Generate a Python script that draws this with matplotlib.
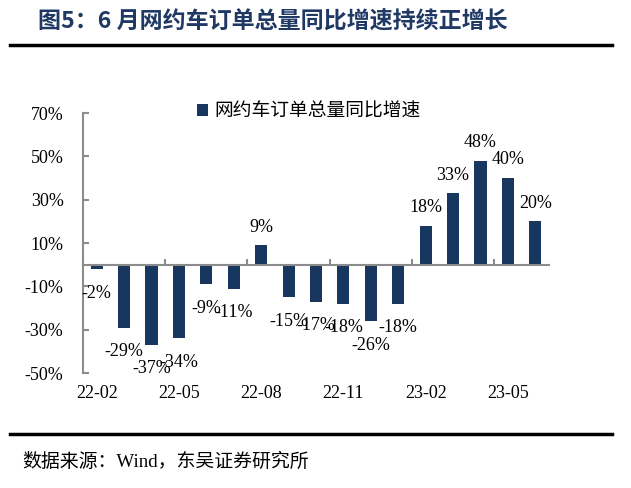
import numpy as np
import matplotlib.pyplot as plt
from matplotlib import transforms

# monthly yoy growth of ride-hailing orders (%)
months = ['22-02', '22-03', '22-04', '22-05', '22-06', '22-07', '22-08', '22-09', '22-10',
          '22-11', '22-12', '23-01', '23-02', '23-03', '23-04', '23-05', '23-06']
growth = [-2, -29, -37, -34, -9, -11, 9, -15, -17, -18, -26, -18, 18, 33, 48, 40, 20]
yticks = [70, 50, 30, 10, -10, -30, -50]

serif = ['Liberation Serif', 'Noto Sans CJK SC']
bar_color = '#17375e'
axis_gray = '#8c8c8c'

fig = plt.figure(figsize=(6.31, 4.88), dpi=100)
ax = fig.add_axes([83/631, 1-373/488, 466/631, 260/488])

x = np.arange(len(months))
ax.bar(x, growth, width=0.44, color=bar_color, zorder=2, label='网约车订单总量同比增速')

ax.set_xlim(-0.5, len(months)-0.5)
ax.set_ylim(-50, 70)

# spines: left gray, bottom at zero
for s in ['top', 'right']:
    ax.spines[s].set_visible(False)
ax.spines['left'].set_color(axis_gray)
ax.spines['left'].set_linewidth(1.5)
ax.spines['bottom'].set_position(('data', 0))
ax.spines['bottom'].set_color(axis_gray)
ax.spines['bottom'].set_linewidth(1.5)
ax.spines['bottom'].set_zorder(3)

ax.set_yticks(yticks)
ax.set_yticklabels([f'{v}%' for v in yticks], family=serif, fontsize=13)
ax.tick_params(axis='y', direction='in', length=4, width=1.5, color=axis_gray, pad=14)

# tick marks at category boundaries every 3 months, labels put separately
ax.set_xticks(np.arange(2.5, len(months)-1, 3))
ax.set_xticklabels([])
ax.tick_params(axis='x', direction='in', length=4, width=1.5, color=axis_gray)
trans = transforms.blended_transform_factory(ax.transData, ax.transAxes)
for i in range(0, len(months), 3):
    ax.text(x[i], -0.08, months[i], transform=trans, ha='center', va='center',
            family=serif, fontsize=13)

# data labels
for xi, v in zip(x, growth):
    off = 18 if v > 0 else -24
    ax.annotate(f'{v}%', (xi, v), xytext=(0, off), textcoords='offset pixels',
                ha='center', va='center', family=serif, fontsize=13)

leg = ax.legend(loc='upper left', bbox_to_anchor=(0.224, 1.085), frameon=False,
                borderpad=0, handlelength=0.6, handleheight=0.6, handletextpad=0.35,
                prop={'family': ['Noto Sans CJK SC'], 'size': 13.5, 'weight': 'light'})

# title, rules and source
fig.text(38/631, 1-22/488, '图5：6 月网约车订单总量同比增速持续正增长', ha='left', va='center',
         fontsize=16.6, fontweight='bold', color='#1f3864', family=['Noto Sans CJK SC'])
fig.add_artist(plt.Line2D([10/631, 612/631], [1-45/488, 1-45/488], color='black', lw=2.5))
fig.add_artist(plt.Line2D([10/631, 612/631], [1-434/488, 1-434/488], color='black', lw=2.5))
fig.text(22/631, 1-462/488, '数据来源：Wind，东吴证券研究所', ha='left', va='center',
         fontsize=13.6, family=serif)

fig.savefig('out.png', dpi=100)
